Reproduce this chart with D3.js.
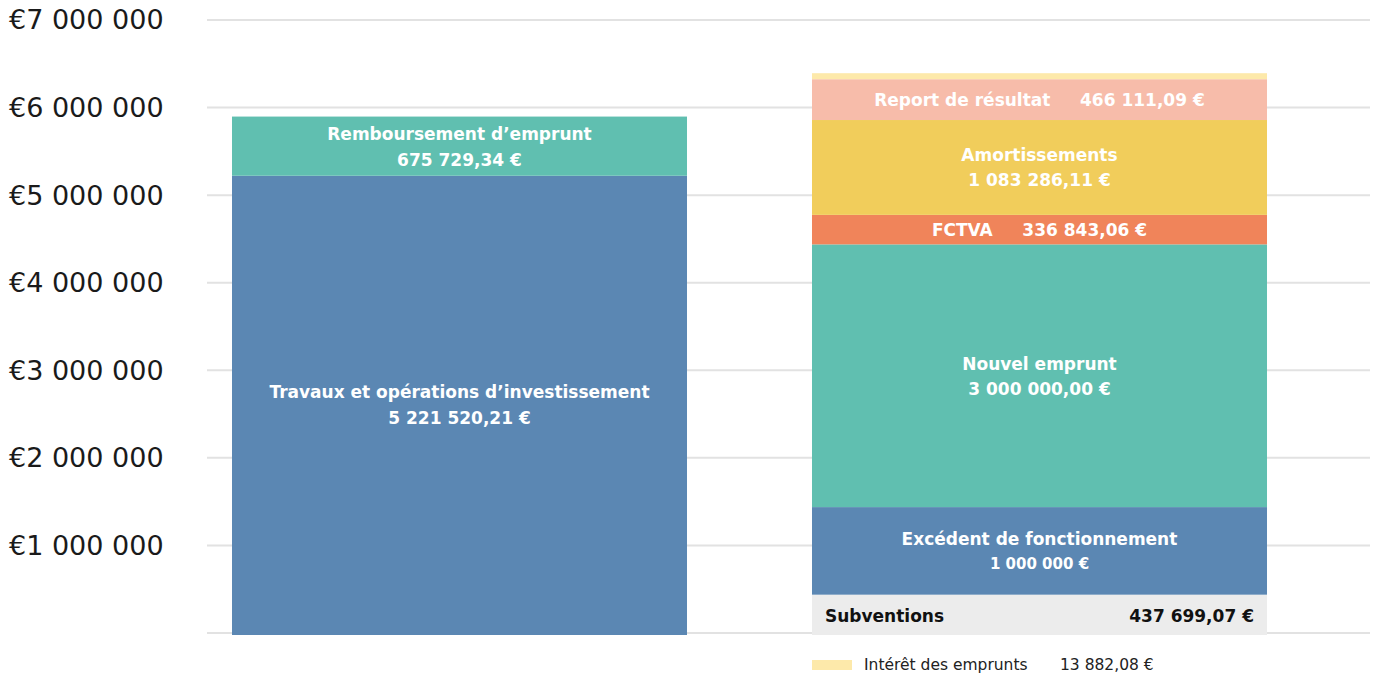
<!DOCTYPE html>
<html>
<head>
<meta charset="utf-8">
<script src="https://cdn.jsdelivr.net/npm/d3@7"></script>
<style>
  body { margin: 0; background: #fff; }
  text { font-family: "DejaVu Sans", sans-serif; }
</style>
</head>
<body>
<div id="chart"></div>
<script>
// data
var columns = ["Dépenses", "Recettes"];

var depLabels = ["Travaux et opérations d’investissement", "Remboursement d’emprunt"];
var depValues = [5221520.21, 675729.34];
var depText = ["5 221 520,21 €", "675 729,34 €"];

var recLabels = ["Subventions", "Excédent de fonctionnement", "Nouvel emprunt", "FCTVA", "Amortissements", "Report de résultat", "Intérêt des emprunts"];
var recValues = [437699.07, 1000000, 3000000, 336843.06, 1083286.11, 466111.09, 13882.08];
var recText = ["437 699,07 €", "1 000 000 €", "3 000 000,00 €", "336 843,06 €", "1 083 286,11 €", "466 111,09 €", "13 882,08 €"];

var yTicks = [1000000, 2000000, 3000000, 4000000, 5000000, 6000000, 7000000];

var depColors = ["#5b87b3", "#60bfb0"];
var recColors = ["#ececec", "#5b87b3", "#60bfb0", "#f0845a", "#f1cd5b", "#f7bcaa", "#fde9aa"];

//size
var svgWidth = 1378;
var svgHeight = 677;

var svg = d3.select("#chart")
    .append("svg")
    .attr("width", svgWidth)
    .attr("height", svgHeight);

var y = d3.scaleLinear()
    .domain([0, 7000000])
    .range([633, 20]);

var x = d3.scaleBand()
    .domain(columns)
    .range([207, 1292])
    .paddingInner(0.2155)
    .paddingOuter(0.0431);

//gridlines
svg.append("g").selectAll("line")
    .data([0].concat(yTicks))
    .enter()
    .append("line")
    .attr("x1", 207)
    .attr("x2", 1370)
    .attr("y1", d => y(d))
    .attr("y2", d => y(d))
    .attr("stroke", "#e2e2e2")
    .attr("stroke-width", 2);

//y labels
var fmt = d => "€" + d3.format(",")(d).replace(/,/g, " ");
svg.append("g").selectAll("text")
    .data(yTicks)
    .enter()
    .append("text")
    .attr("x", 9)
    .attr("y", d => y(d))
    .attr("dy", "0.35em")
    .attr("font-size", 27)
    .attr("fill", "#1a1a1a")
    .text(fmt);

// stacking helper
function stackUp(values) {
    var ends = d3.cumsum(values);
    return values.map((v, i) => ({ v: v, y0: ends[i] - v, y1: ends[i], i: i }));
}

var bw = x.bandwidth();
var fs = 17;

// left column
var dep = stackUp(depValues);
svg.append("g").selectAll("rect")
    .data(dep)
    .enter()
    .append("rect")
    .attr("x", x("Dépenses"))
    .attr("width", bw)
    .attr("y", d => y(d.y1))
    .attr("height", d => y(d.y0) - y(d.y1) + (d.i == 0 ? 2 : 0))
    .attr("fill", d => depColors[d.i]);

dep.forEach(function (d) {
    var cx = x("Dépenses") + bw / 2;
    var cy = (y(d.y0) + y(d.y1)) / 2;
    var t = svg.append("text")
        .attr("text-anchor", "middle")
        .attr("fill", "#fff")
        .attr("font-weight", "bold")
        .attr("font-size", fs);
    t.append("tspan").attr("x", cx).attr("y", cy - 12).attr("dy", "0.35em").text(depLabels[d.i]);
    t.append("tspan").attr("x", cx).attr("y", cy + 14).attr("dy", "0.35em").text(depText[d.i]);
});

// right column
var rec = stackUp(recValues);
var xr = x("Recettes");
svg.append("g").selectAll("rect")
    .data(rec)
    .enter()
    .append("rect")
    .attr("x", xr)
    .attr("width", bw)
    .attr("y", function (d) {
        // tiny top segment is drawn with a minimum visible height
        if (d.i == 6) return y(d.y0) - Math.max(6, y(d.y0) - y(d.y1));
        return y(d.y1);
    })
    .attr("height", function (d) {
        if (d.i == 6) return Math.max(6, y(d.y0) - y(d.y1));
        return y(d.y0) - y(d.y1) + (d.i == 0 ? 2 : 0);
    })
    .attr("fill", d => recColors[d.i]);

var rcx = xr + bw / 2;
function mid(d) { return (y(d.y0) + y(d.y1)) / 2; }

// two-line labels
[1, 2, 4].forEach(function (i) {
    var d = rec[i];
    var t = svg.append("text")
        .attr("text-anchor", "middle")
        .attr("fill", "#fff")
        .attr("font-weight", "bold")
        .attr("font-size", fs);
    t.append("tspan").attr("x", rcx).attr("y", mid(d) - 12).attr("dy", "0.35em").text(recLabels[i]);
    t.append("tspan").attr("x", rcx).attr("y", mid(d) + 13).attr("dy", "0.35em")
        .attr("font-size", i == 1 ? 15 : fs).text(recText[i]);
});

// one-line labels (label + value)
[3, 5].forEach(function (i) {
    var d = rec[i];
    svg.append("text")
        .attr("x", rcx)
        .attr("y", mid(d))
        .attr("dy", "0.35em")
        .attr("text-anchor", "middle")
        .attr("fill", "#fff")
        .attr("font-weight", "bold")
        .attr("font-size", fs)
        .attr("xml:space", "preserve")
        .text(recLabels[i] + "     " + recText[i]);
});

// subventions row
svg.append("text")
    .attr("x", xr + 13)
    .attr("y", mid(rec[0]) + 2)
    .attr("dy", "0.35em")
    .attr("fill", "#111")
    .attr("font-weight", "bold")
    .attr("font-size", fs)
    .text(recLabels[0]);
svg.append("text")
    .attr("x", xr + bw - 13)
    .attr("y", mid(rec[0]) + 2)
    .attr("dy", "0.35em")
    .attr("text-anchor", "end")
    .attr("fill", "#111")
    .attr("font-weight", "bold")
    .attr("font-size", fs)
    .text(recText[0]);

// legend for small segment
var lg = svg.append("g").attr("transform", `translate(${xr}, 665)`);
lg.append("rect")
    .attr("x", 0).attr("y", -5)
    .attr("width", 40).attr("height", 10)
    .attr("fill", recColors[6]);
lg.append("text")
    .attr("x", 52).attr("dy", "0.35em")
    .attr("font-size", 15.5).attr("fill", "#222")
    .text(recLabels[6]);
lg.append("text")
    .attr("x", 248).attr("dy", "0.35em")
    .attr("font-size", 15.5).attr("fill", "#222")
    .text(recText[6]);
</script>
</body>
</html>
